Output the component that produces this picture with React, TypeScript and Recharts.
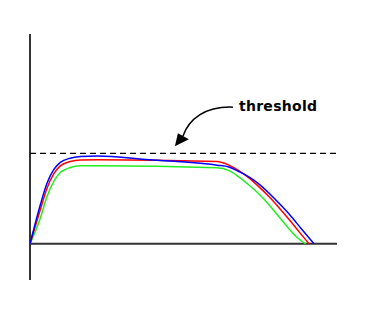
import React from 'react';
import { LineChart, Line, XAxis, YAxis, ReferenceLine, ReferenceDot } from 'recharts';

// x positions (0..100 across the horizontal axis) and the three curves
const blueX = [0, 3.35, 5.54, 7.72, 9.87, 13.1, 16.4, 21.8, 38.8, 60.9, 64.8, 68, 71.3, 74.6, 77.9, 81.1, 84.4, 88.3, 92.5];
const blueY = [0, 0.43, 0.67, 0.82, 0.9, 0.947, 0.965, 0.972, 0.93, 0.87, 0.85, 0.8, 0.74, 0.66, 0.56, 0.45, 0.33, 0.17, 0];

const redX = [0, 3.35, 5.54, 7.72, 9.87, 13.1, 16.4, 21.8, 60.9, 64.8, 68, 71.3, 74.6, 77.9, 81.1, 84.4, 87.6, 90.9];
const redY = [0, 0.376, 0.615, 0.773, 0.862, 0.91, 0.928, 0.93, 0.91, 0.87, 0.81, 0.73, 0.63, 0.52, 0.4, 0.27, 0.135, 0];

const greenX = [0, 3.35, 5.54, 7.72, 9.87, 13.1, 16.4, 21.8, 60.9, 64.8, 68, 71.3, 74.6, 77.9, 81.1, 84.4, 87, 89.8];
const greenY = [0, 0.284, 0.523, 0.688, 0.788, 0.843, 0.862, 0.862, 0.84, 0.81, 0.74, 0.65, 0.55, 0.43, 0.3, 0.165, 0.07, 0];

const threshold = 1;
const annotationText = 'threshold';
const arrowTip = { x: 47.2, y: 1.08 };

const toPoints = (xs: number[], ys: number[]) => xs.map((x, i) => ({ x, y: ys[i] }));

const blueData = toPoints(blueX, blueY);
const redData = toPoints(redX, redY);
const greenData = toPoints(greenX, greenY);

const Arrow = (props: any) => {
  const { cx, cy } = props;
  if (cx == null || cy == null) return null;
  return (
    <g>
      <path
        d={`M ${cx + 8} ${cy - 10} C ${cx + 14} ${cy - 27}, ${cx + 30} ${cy - 40}, ${cx + 58} ${cy - 39}`}
        fill="none"
        stroke="#000"
        strokeWidth={1.5}
      />
      <path d={`M ${cx} ${cy} L ${cx + 3} ${cy - 13} L ${cx + 14} ${cy - 7} Z`} fill="#000" />
      <text
        x={cx + 64}
        y={cy - 35}
        fontFamily="DejaVu Sans"
        fontWeight="bold"
        fontSize={14}
        letterSpacing={0.3}
        fill="#000"
      >
        {annotationText}
      </text>
    </g>
  );
};

const App: React.FC = () => {
  return (
    <div style={{ position: 'absolute', left: 0, top: 0, background: '#fff' }}>
      <LineChart width={374} height={311} margin={{ top: 34, right: 37, bottom: 31, left: 30 }}>
        <XAxis type="number" dataKey="x" domain={[0, 100]} hide />
        <YAxis type="number" dataKey="y" domain={[-0.4, 2.32]} hide width={0} />
        <ReferenceLine
          segment={[{ x: 0, y: -0.4 }, { x: 0, y: 2.32 }]}
          stroke="#333"
          strokeWidth={2}
          ifOverflow="visible"
        />
        <ReferenceLine
          segment={[{ x: 0, y: 0 }, { x: 100, y: 0 }]}
          stroke="#333"
          strokeWidth={2}
          ifOverflow="visible"
        />
        <ReferenceLine y={threshold} stroke="#000" strokeWidth={1.3} strokeDasharray="6 4" />
        <Line data={greenData} dataKey="y" type="monotone" stroke="#22ee22" strokeWidth={1.5} dot={false} isAnimationActive={false} />
        <Line data={redData} dataKey="y" type="monotone" stroke="#ff0000" strokeWidth={1.5} dot={false} isAnimationActive={false} />
        <Line data={blueData} dataKey="y" type="monotone" stroke="#0000ff" strokeWidth={1.5} dot={false} isAnimationActive={false} />
        <ReferenceDot x={arrowTip.x} y={arrowTip.y} shape={<Arrow />} ifOverflow="visible" />
      </LineChart>
    </div>
  );
};

export default App;
